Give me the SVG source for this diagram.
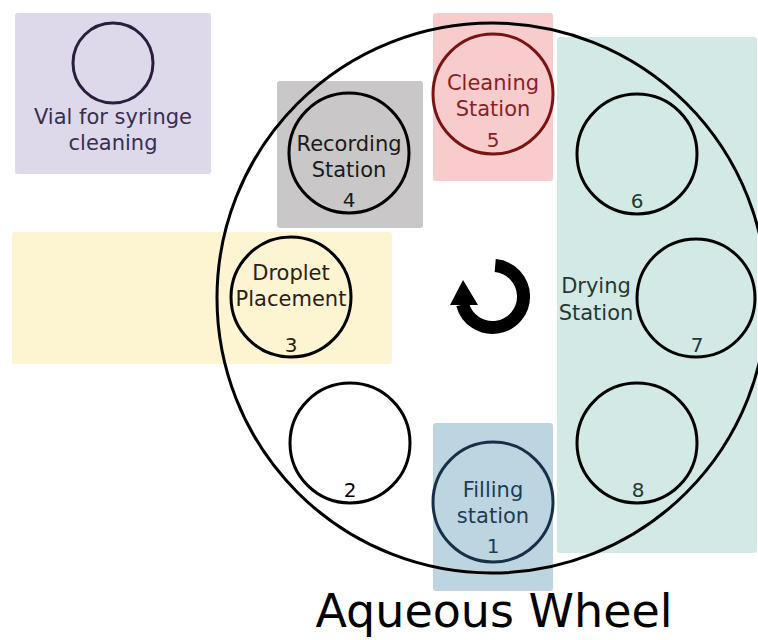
<svg xmlns="http://www.w3.org/2000/svg" width="758" height="640" viewBox="0 0 758 640">
<style>
text{font-family:"DejaVu Sans","Noto Sans",sans-serif;font-size:21px;text-anchor:middle}
.slot{fill:none;stroke:#000;stroke-width:3}
.box{rx:3px;ry:3px}
.num{font-size:20px}
</style>
<rect width="758" height="640" fill="#fff"/>
<g id="vial">
<rect class="box" x="15" y="13" width="196" height="161" fill="#ddd9ea"/>
<circle cx="113" cy="63" r="40" fill="none" stroke="#2b1d3b" stroke-width="3"/>
<text x="113" y="124" fill="#3b2d4f">Vial for syringe</text>
<text x="113" y="150" fill="#3b2d4f">cleaning</text>
</g>
<g id="recording">
<rect class="box" x="277" y="81" width="146" height="147" fill="#c9c7c7"/>
<circle class="slot" cx="349" cy="153" r="60"/>
<text x="349" y="151" fill="#1a1a1a">Recording</text>
<text x="349" y="177" fill="#1a1a1a">Station</text>
<text class="num" x="349" y="207" fill="#1a1a1a">4</text>
</g>
<g id="cleaning">
<rect class="box" x="433" y="13" width="120" height="168" fill="#f8cccc"/>
<circle cx="493" cy="94" r="60" fill="none" stroke="#7a1414" stroke-width="3"/>
<text x="493" y="90" fill="#8a1f1f">Cleaning</text>
<text x="493" y="116" fill="#8a1f1f">Station</text>
<text class="num" x="493" y="147" fill="#8a1f1f">5</text>
</g>
<g id="drying">
<rect class="box" x="557" y="37" width="200" height="516" fill="#d3e9e5"/>
<circle class="slot" cx="637" cy="154" r="60"/>
<text class="num" x="637" y="208" fill="#1e3a36">6</text>
<circle class="slot" cx="696" cy="298" r="59"/>
<text class="num" x="697" y="352" fill="#1e3a36">7</text>
<circle class="slot" cx="637" cy="443" r="60"/>
<text class="num" x="638" y="497" fill="#1e3a36">8</text>
<text x="596" y="293" fill="#1e3a36">Drying</text>
<text x="596" y="320" fill="#1e3a36">Station</text>
</g>
<g id="droplet">
<rect class="box" x="12" y="232" width="380" height="132" fill="#fdf4d2"/>
<circle class="slot" cx="291" cy="297" r="60"/>
<text x="291" y="280" fill="#2b2015">Droplet</text>
<text x="291" y="306" fill="#2b2015">Placement</text>
<text class="num" x="291" y="352" fill="#2b2015">3</text>
</g>
<g id="slot2">
<circle class="slot" cx="350" cy="443" r="60"/>
<text class="num" x="350" y="497" fill="#000">2</text>
</g>
<g id="filling">
<rect class="box" x="433" y="423" width="120" height="168" fill="#bdd5e1"/>
<circle cx="493" cy="502" r="60" fill="none" stroke="#163048" stroke-width="3"/>
<text x="493" y="497" fill="#1e3c55">Filling</text>
<text x="493" y="523" fill="#1e3c55">station</text>
<text class="num" x="493" y="553" fill="#1e3c55">1</text>
</g>
<g id="wheel">
<circle cx="492" cy="298" r="275" fill="none" stroke="#000" stroke-width="3"/>
<text x="494" y="627" style="font-size:46px" fill="#000">Aqueous Wheel</text>
</g>
<g id="rotation">
<path d="M495.2,265.6 A31,31 0 1 1 462.6,304.5" fill="none" stroke="#000" stroke-width="13"/>
<polygon points="463,280 450,305 478,305" fill="#000"/>
</g>
</svg>
